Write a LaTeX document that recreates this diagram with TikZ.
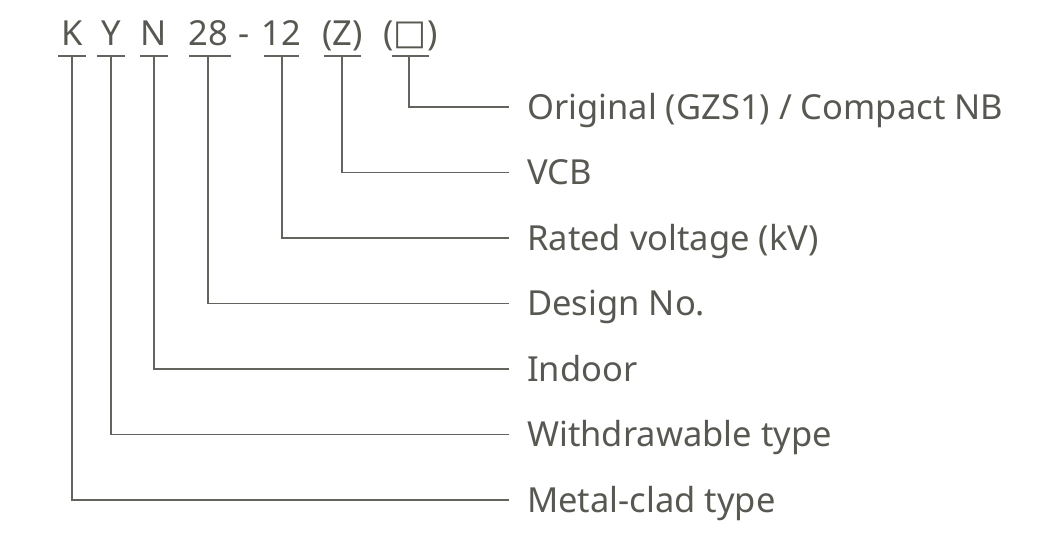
\documentclass[tikz,border=0pt]{standalone}
\usepackage{fontspec}
\setmainfont{Noto Sans}
\newfontfamily\symfont{DejaVu Sans}
\definecolor{ink}{RGB}{88,88,83}
\definecolor{wire}{RGB}{100,100,95}
\begin{document}
\begin{tikzpicture}[x=1pt,y=-1pt,
  code/.style={text=ink,font=\fontsize{34.5}{35}\selectfont,anchor=base,inner sep=0pt},
  lbl/.style={text=ink,font=\fontsize{34.5}{35}\selectfont,anchor=base west,inner sep=0pt},
  uline/.style={draw=wire,line width=1.8pt},
  wire/.style={draw=wire,line width=1.8pt}]
\useasboundingbox (0,0) rectangle (1047,550);
% top code letters
\node[code] (cK) at (72,45) {K};
\node[code] (cY) at (111,45) {Y};
\node[code] (cN) at (154,45) {N};
\node[code] (c28) at (208,45) {28};
\node[code] (cdash) at (244,45) {-};
\node[code] (c12) at (281,45) {12};
\node[code] (cZ) at (342.5,45) {(Z)};
\node[code] (cB) at (410.5,45) {(\raisebox{0.5pt}{\symfont\fontsize{35}{35}\selectfont □})};
% underline anchors
\coordinate (uK) at (72,56);
\coordinate (uY) at (111,56);
\coordinate (uN) at (154,56);
\coordinate (u28) at (208,56);
\coordinate (u12) at (282,56);
\coordinate (uZ) at (342,56);
\coordinate (uB) at (409,56);
\draw[uline] (58,56) -- (86,56);
\draw[uline] (97,56) -- (125,56);
\draw[uline] (140,56) -- (168,56);
\draw[uline] (189,56) -- (231,56);
\draw[uline] (264,56) -- (299,56);
\draw[uline] (324,56) -- (361,56);
\draw[uline] (392,56) -- (429,56);
% labels
\node[lbl] (lB) at (527,119) {Original (GZS1) / Compact NB};
\node[lbl] (lZ) at (527,184.5) {VCB};
\node[lbl] (l12) at (527,250) {Rated voltage (kV)};
\node[lbl] (l28) at (527,315.5) {Design No.};
\node[lbl] (lN) at (527,381) {Indoor};
\node[lbl] (lY) at (527,446.5) {Withdrawable type};
\node[lbl] (lK) at (527,512) {Metal-clad type};
% connectors
\coordinate (eB) at (509,107);
\coordinate (eZ) at (509,172.5);
\coordinate (e12) at (509,238);
\coordinate (e28) at (509,303.5);
\coordinate (eN) at (509,369);
\coordinate (eY) at (509,434.5);
\coordinate (eK) at (509,500);
\draw[wire] (uB) |- (eB);
\draw[wire] (uZ) |- (eZ);
\draw[wire] (u12) |- (e12);
\draw[wire] (u28) |- (e28);
\draw[wire] (uN) |- (eN);
\draw[wire] (uY) |- (eY);
\draw[wire] (uK) |- (eK);
\end{tikzpicture}
\end{document}
